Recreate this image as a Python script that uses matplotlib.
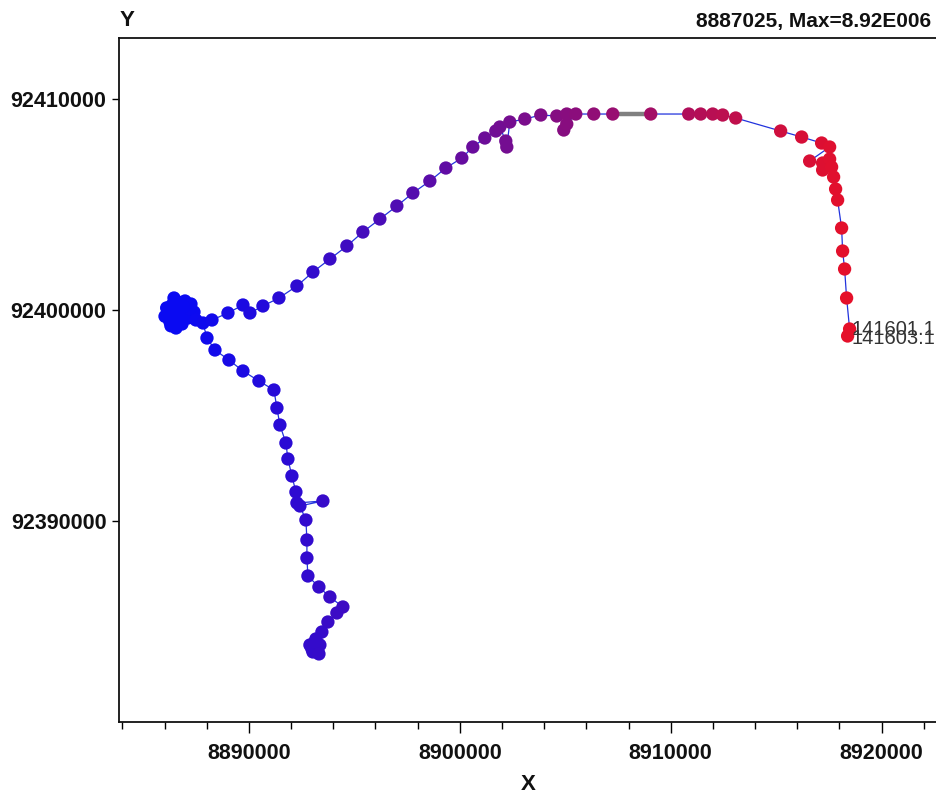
import matplotlib
matplotlib.use("Agg")
import matplotlib.pyplot as plt
from matplotlib.colors import LinearSegmentedColormap
import numpy as np

# ---- data ----
# cluster + descending branch (first polyline)
x_down = [8886161, 8886351, 8886635, 8886967, 8887251, 8887394, 8887109, 8886825,
          8886541, 8886256, 8886635, 8887014, 8886446, 8886020, 8886300, 8886750,
          8887200, 8886900, 8886500, 8886100, 8887488, 8887820,
          8888010, 8888389, 8889052, 8889716, 8890474, 8891185, 8891327, 8891469,
          8891753, 8891848, 8892038, 8892227, 8892275, 8893507, 8892417, 8892701,
          8892749, 8892749, 8892796, 8893317, 8893839, 8894455, 8894170, 8893744,
          8893459, 8893175, 8892891, 8893175, 8893365, 8893033, 8893270, 8892980,
          8893120, 8893320]
y_down = [92399905, 92400237, 92400379, 92400427, 92400284, 92399905, 92399621, 92399337,
          92399147, 92399431, 92399810, 92400000, 92400569, 92399700, 92399250, 92399550,
          92400050, 92400150, 92400050, 92400100, 92399526, 92399384,
          92398673, 92398104, 92397630, 92397109, 92396635, 92396209, 92395356, 92394550,
          92393697, 92392939, 92392133, 92391375, 92390854, 92390949, 92390712, 92390048,
          92389100, 92388247, 92387394, 92386873, 92386399, 92385925, 92385641, 92385214,
          92384740, 92384409, 92384124, 92383982, 92384124, 92383793, 92383793, 92383950,
          92384250, 92383700]

# branch from the cluster going up and east (second polyline)
x_up = [8888247, 8889005, 8889716, 8890047, 8890663, 8891422, 8892275, 8893033,
        8893839, 8894644, 8895402, 8896208, 8897014, 8897772, 8898578, 8899336,
        8900094, 8900615, 8901184, 8901705, 8901895, 8902179, 8902227, 8902369,
        8903080, 8903838, 8904596, 8905070, 8904928, 8905070, 8905497, 8906350,
        8907250, 8909051, 8910852, 8911420, 8911989, 8912463, 8913079, 8915211,
        8916207, 8917154, 8917534, 8916586, 8917202, 8917534, 8917202, 8917628,
        8917723, 8917818, 8917913, 8918102, 8918150, 8918244, 8918339, 8918481,
        8918387]
y_up = [92399526, 92399858, 92400237, 92399858, 92400190, 92400569, 92401137, 92401801,
        92402417, 92403033, 92403696, 92404312, 92404929, 92405545, 92406113, 92406729,
        92407203, 92407725, 92408151, 92408483, 92408672, 92408009, 92407725, 92408909,
        92409051, 92409241, 92409194, 92409288, 92408530, 92408815, 92409288, 92409288,
        92409288, 92409288, 92409288, 92409288, 92409288, 92409241, 92409099, 92408483,
        92408198, 92407914, 92407725, 92407061, 92406966, 92407156, 92406635, 92406777,
        92406303, 92405734, 92405213, 92403886, 92402796, 92401943, 92400569, 92399100,
        92398768]

gray_start, gray_end = 32, 33          # indices in x_up for the grey segment
point_labels = ["141601.1", "141603.1"]
label_idx = [55, 56]
cmin, cmax = 8887025, 8920000
title_right = "8887025, Max=8.92E006"

# ---- figure ----
W, H = 936, 796
fig = plt.figure(figsize=(W / 100, H / 100), dpi=100)
left_px, right_px, top_px, bot_px = 119, 966, 38, 722
ax = fig.add_axes([left_px / W, 1 - bot_px / H, (right_px - left_px) / W, (bot_px - top_px) / H])

cmap = LinearSegmentedColormap.from_list("br", ["#0a0af2", "#f01020"])
line_col = "#2233dd"

ax.plot(x_down, y_down, color=line_col, lw=0.9, zorder=1)
ax.plot(x_up, y_up, color=line_col, lw=0.9, zorder=1)
ax.plot(x_up[gray_start:gray_end + 1], y_up[gray_start:gray_end + 1], color="#808080", lw=3.2,
        zorder=1.5, solid_capstyle="butt")

xa = np.array(x_down + x_up)
ya = np.array(y_down + y_up)
ax.scatter(xa, ya, c=xa, cmap=cmap, vmin=cmin, vmax=cmax, s=92, linewidths=0, zorder=2)

for lab, i, dx, dy in zip(point_labels, label_idx, [2, 4], [-1, -3]):
    ax.annotate(lab, (x_up[i], y_up[i]), xytext=(dx, dy), textcoords="offset pixels",
                ha="left", va="center", fontsize=14.5, color="#333333",
                family=["Liberation Sans", "DejaVu Sans"], annotation_clip=False, zorder=3)

x0 = 8890000 - (249 - left_px) * 10000 / 211
x1 = 8890000 + (right_px - 249) * 10000 / 211
y0 = 92400000 - (bot_px - 310) * 10000 / 211
y1 = 92400000 + (310 - top_px) * 10000 / 211
ax.set_xlim(x0, x1)
ax.set_ylim(y0, y1)

ax.set_xticks([8890000, 8900000, 8910000, 8920000])
ax.set_xticks(np.arange(8884000, 8924001, 2000), minor=True)
ax.set_yticks([92390000, 92400000, 92410000])
ax.xaxis.set_major_formatter(matplotlib.ticker.FuncFormatter(lambda v, p: f"{int(round(v))}"))
ax.yaxis.set_major_formatter(matplotlib.ticker.FuncFormatter(lambda v, p: f"{int(round(v))}"))

fam = ["Liberation Sans", "DejaVu Sans"]
for t in ax.get_xticklabels() + ax.get_yticklabels():
    t.set_fontfamily(fam)
    t.set_fontweight("bold")
    t.set_fontsize(15.5)
    t.set_color("#111111")
ax.tick_params(axis="x", which="major", length=8, width=1, pad=7, direction="out")
ax.tick_params(axis="x", which="minor", length=5, width=1, direction="out")
ax.tick_params(axis="y", which="major", length=5, width=1, pad=4, direction="out")
for s in ax.spines.values():
    s.set_linewidth(1.3)
    s.set_color("#111111")

fig.text(120 / W, 1 - 20 / H, "Y", ha="left", va="center", fontsize=16, fontweight="bold",
         family=fam, color="#111111")
fig.text(528 / W, 1 - 784 / H, "X", ha="center", va="center", fontsize=16, fontweight="bold",
         family=fam, color="#111111")
fig.text(931 / W, 1 - 21 / H, title_right, ha="right", va="center", fontsize=15, fontweight="bold",
         family=fam, color="#111111")

fig.savefig("out.png", dpi=100)
